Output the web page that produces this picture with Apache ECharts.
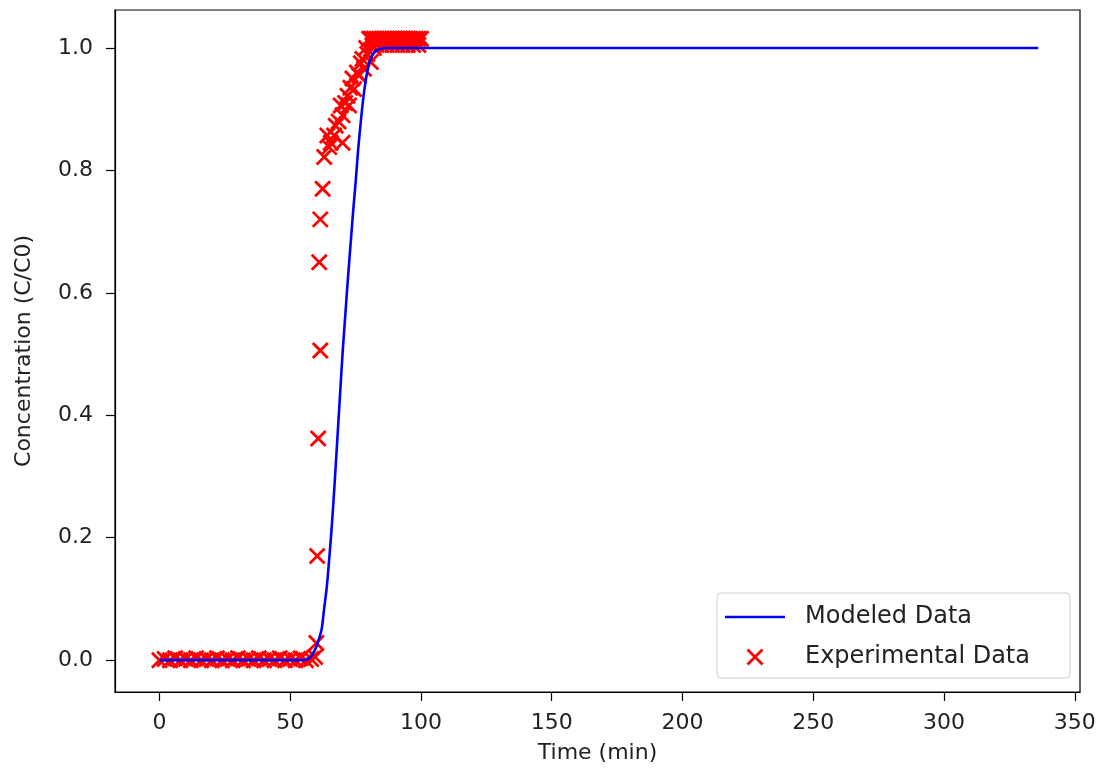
<!DOCTYPE html>
<html>
<head>
<meta charset="utf-8">
<title>Concentration vs Time</title>
<script src="https://cdn.jsdelivr.net/npm/echarts@6/dist/echarts.min.js"></script>
<style>
  html, body { margin: 0; padding: 0; background: #fff; }
  #chart { width: 1107px; height: 772px; }
</style>
</head>
<body>
<div id="chart"></div>
<script>
// modeled curve
const modelTime = [0, 55, 57, 58, 59, 60, 61, 62, 63, 64, 65, 66, 67, 68, 69, 70, 71, 72, 73, 74, 75, 76, 77, 78, 79, 80, 81, 82, 83, 85, 87, 336];
const modelConc = [0, 0, 0.002, 0.006, 0.013, 0.022, 0.035, 0.05, 0.085, 0.12, 0.17, 0.225, 0.29, 0.36, 0.43, 0.5, 0.56, 0.62, 0.675, 0.73, 0.78, 0.835, 0.88, 0.92, 0.95, 0.972, 0.985, 0.992, 0.996, 0.999, 1.0, 1.0];

// experimental points
const expTime = [
  0, 2, 4, 6, 8, 10, 12, 14, 16, 18, 20, 22, 24, 26, 28, 30, 32, 34, 36, 38, 40, 42, 44, 46, 48, 50, 52, 54, 56, 58,
  59.5, 60, 60.3, 60.7, 61.5, 61.1, 61.5, 62.4, 63, 64.9, 64.2, 66.8, 70, 67.4, 70, 69.3, 72.5, 71.9, 74.4, 73.8, 76.3, 78.2, 77.6, 79.5, 80.8, 81.4, 80.2,
  65.5, 68.5, 71, 73, 75.5, 77, 79, 82,
  81, 82, 83, 84, 85, 86, 87, 88, 89, 90, 91, 92, 93, 94, 95, 96, 97, 98, 99, 100,
  83, 85, 87, 89, 91, 93, 95, 97, 99
];
const expConc = [
  0, 0.002, 0, 0.003, 0, 0.002, 0, 0.003, 0, 0.002, 0, 0.003, 0, 0.002, 0, 0.003, 0, 0.002, 0, 0.003, 0, 0.002, 0, 0.003, 0, 0.002, 0, 0.003, 0, 0.002,
  0.005, 0.028, 0.17, 0.362, 0.506, 0.65, 0.72, 0.77, 0.822, 0.838, 0.857, 0.857, 0.845, 0.873, 0.89, 0.906, 0.906, 0.922, 0.933, 0.95, 0.955, 0.966, 0.982, 0.99, 0.977, 1.004, 1.015,
  0.845, 0.88, 0.91, 0.935, 0.96, 0.975, 1.0, 1.0,
  1.015, 1.015, 1.015, 1.015, 1.015, 1.015, 1.015, 1.015, 1.015, 1.015, 1.015, 1.015, 1.015, 1.015, 1.015, 1.015, 1.015, 1.015, 1.015, 1.015,
  1.005, 1.005, 1.005, 1.005, 1.005, 1.005, 1.005, 1.005, 1.005
];

// tick labels
const xTicks = [0, 50, 100, 150, 200, 250, 300, 350];
const yTicks = [0, 0.2, 0.4, 0.6, 0.8, 1.0];

const crossPath = 'path://M0,0L10,10M10,0L0,10';
const font = 'DejaVu Sans';

let myChart = echarts.init(document.getElementById('chart'));
let option = {
  animation: false,
  textStyle: { fontFamily: font },
  grid: {
    left: 115, right: 27, top: 10, bottom: 80,
    show: true, borderColor: '#000', borderWidth: 1.2, backgroundColor: 'transparent'
  },
  legend: {
    orient: 'vertical',
    left: 717, top: 593,
    padding: [12, 40, 9, 8],
    itemWidth: 60, itemHeight: 15, itemGap: 16,
    backgroundColor: '#fff',
    borderColor: '#cccccc', borderWidth: 1, borderRadius: 4,
    textStyle: { fontFamily: font, fontSize: 24, color: '#222', padding: [0, 0, 0, 15] },
    data: [
      { name: 'Modeled Data', icon: 'path://M0,0L60,0L60,2.6L0,2.6Z', itemStyle: { color: '#0000ff' } },
      { name: 'Experimental Data', icon: crossPath, itemStyle: { color: 'none', borderColor: '#ff0000', borderWidth: 2.8 } }
    ]
  },
  xAxis: {
    type: 'value',
    min: -17, max: 352,
    name: 'Time (min)',
    nameLocation: 'middle', nameGap: 50,
    nameTextStyle: { fontFamily: font, fontSize: 22, color: '#222' },
    splitLine: { show: false },
    axisLine: { show: true, onZero: false, lineStyle: { color: '#000', width: 1.2 } },
    axisTick: { show: true, length: 9, lineStyle: { color: '#000', width: 1.2 }, customValues: xTicks },
    axisLabel: { fontFamily: font, fontSize: 22, color: '#222', margin: 20, customValues: xTicks }
  },
  yAxis: {
    type: 'value',
    min: -0.052, max: 1.062,
    name: 'Concentration (C/C0)',
    nameLocation: 'middle', nameGap: 80,
    nameTextStyle: { fontFamily: font, fontSize: 22, color: '#222' },
    splitLine: { show: false },
    axisLine: { show: true, onZero: false, lineStyle: { color: '#000', width: 1.2 } },
    axisTick: { show: true, length: 9, lineStyle: { color: '#000', width: 1.2 }, customValues: yTicks },
    axisLabel: {
      fontFamily: font, fontSize: 22, color: '#222', margin: 22, customValues: yTicks,
      formatter: function (v) { return v.toFixed(1); }
    }
  },
  series: [
    {
      name: 'Modeled Data',
      type: 'line',
      z: 3,
      symbol: 'none',
      smooth: 0.3,
      lineStyle: { color: '#0000ff', width: 2.6 },
      itemStyle: { color: '#0000ff' },
      data: modelTime.map((t, i) => [t, modelConc[i]])
    },
    {
      name: 'Experimental Data',
      type: 'scatter',
      z: 2,
      symbol: crossPath,
      symbolSize: 15,
      itemStyle: { color: 'none', borderColor: '#ff0000', borderWidth: 2.8, opacity: 1 },
      data: expTime.map((t, i) => [t, expConc[i]])
    }
  ]
};
myChart.setOption(option);
</script>
</body>
</html>
